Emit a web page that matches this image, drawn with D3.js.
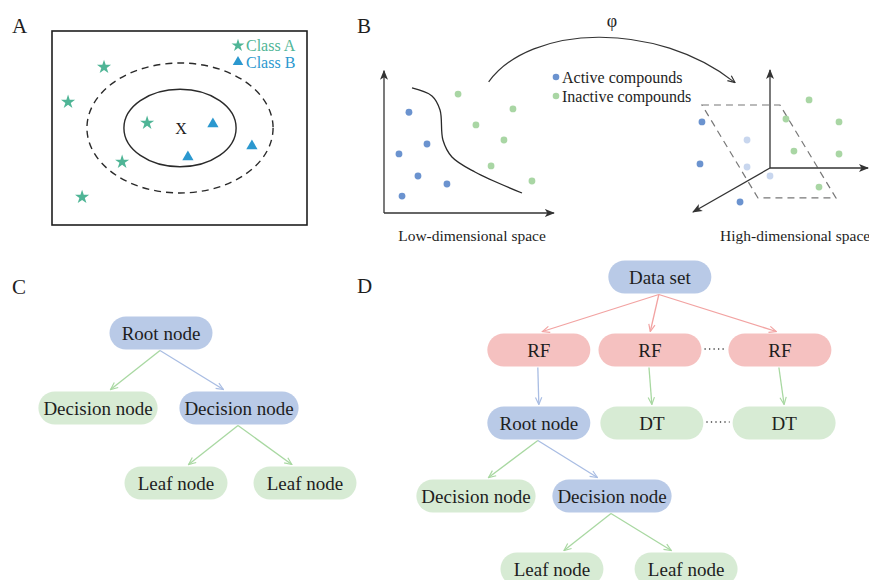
<!DOCTYPE html>
<html>
<head>
<meta charset="utf-8">
<script src="https://cdn.jsdelivr.net/npm/d3@7"></script>
<style>
  body { margin: 0; background: #fff; }
  svg { display: block; font-family: "Liberation Serif", "Times New Roman", serif; }
</style>
</head>
<body>
<svg id="fig" width="869" height="580"></svg>
<script>
// ---- panel A: neighbourhood sketch (units 0-100 inside the frame)
const classA = [[20.4, 18.6], [6.3, 36.6], [37.3, 47.4], [27.5, 67.5], [11.8, 85.6]];
const classB = [[63.1, 47.9], [78.4, 59.3], [53.3, 64.9]];
const queryPoint = [50.2, 50];
const radii = [[22, 20], [36.5, 33.5]];
const legendA = ["Class A", "Class B"];

// ---- panel B: low-dimensional space (units 0-10)
const lowActive = [[1.55, 7.3], [2.67, 5.0], [0.93, 4.28], [2.11, 2.68], [3.91, 2.1], [1.12, 1.23]];
const lowInactive = [[4.6, 8.62], [8.01, 7.54], [5.71, 6.38], [7.45, 5.29], [6.65, 3.41], [9.19, 2.32]];
const boundary = [[1.74, 9.06], [2.98, 8.48], [3.48, 7.46], [3.66, 5.29], [4.22, 4.06], [5.65, 2.97], [8.57, 1.45]];
const lowAxisEnd = [10.55, 10.3];

// ---- panel B: high-dimensional space (units 0-10)
const highActive = [[0.14, 6.29], [0, 3.29], [2.86, 0.57]];
const highFaded = [[3.36, 5.0], [3.36, 3.07], [5.0, 2.43]];
const highInactive = [[7.79, 7.86], [6.14, 6.5], [9.93, 6.29], [6.71, 4.21], [9.93, 4.0], [8.5, 1.64]];
const hyperplane = [[0.14, 7.5], [5.71, 7.5], [9.71, 0.86], [4.14, 0.86]];
const origin3d = [5, 3];
const axes3d = [[5, 10], [12, 3], [-0.5, -0.14]];
const legendB = ["Active compounds", "Inactive compounds"];
const spaceLabels = ["Low-dimensional space", "High-dimensional space"];
const mapSymbol = "φ";

// ---- panel C: decision tree (x 0-100, row index)
const treeC = [
  { id: "r",  label: "Root node",     x: 40.25, row: 0, group: "path" },
  { id: "d1", label: "Decision node", x: 24.5,  row: 1, group: "other", parent: "r" },
  { id: "d2", label: "Decision node", x: 59.75, row: 1, group: "path",  parent: "r" },
  { id: "l1", label: "Leaf node",     x: 44,    row: 2, group: "other", parent: "d2" },
  { id: "l2", label: "Leaf node",     x: 76.25, row: 2, group: "other", parent: "d2" }
];

// ---- panel D: random forest (x 0-100, row index)
const treeD = [
  { id: "ds",  label: "Data set",      x: 55.4, row: 0, group: "path" },
  { id: "rf1", label: "RF",            x: 29.6, row: 1, group: "forest", parent: "ds" },
  { id: "rf2", label: "RF",            x: 53.3, row: 1, group: "forest", parent: "ds" },
  { id: "rf3", label: "RF",            x: 81.0, row: 1, group: "forest", parent: "ds" },
  { id: "rt",  label: "Root node",     x: 29.6, row: 2, group: "path",  parent: "rf1" },
  { id: "dt1", label: "DT",            x: 53.7, row: 2, group: "other", parent: "rf2" },
  { id: "dt2", label: "DT",            x: 81.9, row: 2, group: "other", parent: "rf3" },
  { id: "dc1", label: "Decision node", x: 16.2, row: 3, group: "other", parent: "rt" },
  { id: "dc2", label: "Decision node", x: 45.2, row: 3, group: "path",  parent: "rt" },
  { id: "lf1", label: "Leaf node",     x: 32.4, row: 4, group: "other", parent: "dc2" },
  { id: "lf2", label: "Leaf node",     x: 61.0, row: 4, group: "other", parent: "dc2" }
];
const ellipsisPairs = [["rf2", "rf3"], ["dt1", "dt2"]];
const panelLabels = ["A", "B", "C", "D"];

const svg = d3.select("#fig");
const ink = "#1e1e1e";

// panel letters
const labelPos = [[12, 33], [357, 33], [12, 294], [357, 293]];
svg.selectAll("text.panel")
  .data(panelLabels)
  .enter().append("text")
  .attr("class", "panel")
  .attr("x", (d, i) => labelPos[i][0])
  .attr("y", (d, i) => labelPos[i][1])
  .attr("font-size", 21)
  .attr("fill", ink)
  .text(d => d);

// markers
const defs = svg.append("defs");
function openArrow(id, color) {
  defs.append("marker")
    .attr("id", id)
    .attr("viewBox", "0 0 10 10")
    .attr("refX", 9).attr("refY", 5)
    .attr("markerWidth", 9).attr("markerHeight", 9)
    .attr("markerUnits", "userSpaceOnUse")
    .attr("orient", "auto")
    .append("path")
    .attr("d", "M1,1.5 L9,5 L1,8.5")
    .attr("fill", "none")
    .attr("stroke", color)
    .attr("stroke-width", 1.3);
}
function solidArrow(id, color) {
  defs.append("marker")
    .attr("id", id)
    .attr("viewBox", "0 0 10 10")
    .attr("refX", 9).attr("refY", 5)
    .attr("markerWidth", 10).attr("markerHeight", 10)
    .attr("markerUnits", "userSpaceOnUse")
    .attr("orient", "auto")
    .append("path")
    .attr("d", "M0,1 L10,5 L0,9 L2.5,5 Z")
    .attr("fill", color);
}

const fillColor = d3.scaleOrdinal()
  .domain(["path", "other", "forest"])
  .range(["#b9cae7", "#d7ebd4", "#f5c1c0"]);
const edgeColor = d3.scaleOrdinal()
  .domain(["path", "other", "forest"])
  .range(["#a9bde3", "#a8d8a1", "#f2a3a2"]);
fillColor.domain().forEach(g => openArrow("arr-" + g, edgeColor(g)));
openArrow("arr-ink", "#333");
solidArrow("axis-ink", "#333");

// ================= panel A =================
const xA = d3.scaleLinear().domain([0, 100]).range([52, 307]);
const yA = d3.scaleLinear().domain([0, 100]).range([31, 225]);
const kA = (xA(1) - xA(0));
const kAy = (yA(1) - yA(0));
const gA = svg.append("g");

gA.append("rect")
  .attr("x", xA(0)).attr("y", yA(0))
  .attr("width", xA(100) - xA(0)).attr("height", yA(100) - yA(0))
  .attr("fill", "none").attr("stroke", ink).attr("stroke-width", 1.6);

gA.selectAll("ellipse")
  .data(radii)
  .enter().append("ellipse")
  .attr("cx", xA(queryPoint[0])).attr("cy", yA(queryPoint[1]))
  .attr("rx", d => d[0] * kA).attr("ry", d => d[1] * kAy)
  .attr("fill", "none").attr("stroke", "#2a2a2a").attr("stroke-width", 1.4)
  .attr("stroke-dasharray", (d, i) => i ? "7,5" : null);

gA.append("text")
  .attr("x", xA(queryPoint[0]) + 1).attr("y", yA(queryPoint[1]) + 6)
  .attr("text-anchor", "middle").attr("font-size", 16).attr("fill", ink)
  .text("X");

const starColor = "#4fb596", triColor = "#2b98cf";
gA.selectAll("path.star")
  .data(classA)
  .enter().append("path")
  .attr("class", "star")
  .attr("transform", d => `translate(${xA(d[0])},${yA(d[1])})`)
  .attr("d", d3.symbol(d3.symbolStar, 62))
  .attr("fill", starColor);
gA.selectAll("path.tri")
  .data(classB)
  .enter().append("path")
  .attr("class", "tri")
  .attr("transform", d => `translate(${xA(d[0])},${yA(d[1])})`)
  .attr("d", d3.symbol(d3.symbolTriangle, 55))
  .attr("fill", triColor);

const legA = gA.selectAll("g.leg")
  .data(legendA)
  .enter().append("g")
  .attr("transform", (d, i) => `translate(238,${45.5 + i * 16.5})`);
legA.append("path")
  .attr("d", (d, i) => d3.symbol(i ? d3.symbolTriangle : d3.symbolStar, i ? 48 : 52)())
  .attr("fill", (d, i) => i ? triColor : starColor);
legA.append("text")
  .attr("x", 8).attr("y", 5.5)
  .attr("font-size", 16)
  .attr("fill", (d, i) => i ? triColor : starColor)
  .text(d => d);

// ================= panel B =================
const blueDot = "#6b93cf", greenDot = "#a9d6a4", fadedDot = "#c8d6ee";
const xB = d3.scaleLinear().domain([0, 10]).range([384, 545]);
const yB = d3.scaleLinear().domain([0, 10]).range([213, 75]);
const gB = svg.append("g");

gB.append("line")
  .attr("x1", xB(0)).attr("y1", yB(0)).attr("x2", xB(0)).attr("y2", yB(lowAxisEnd[1]))
  .attr("stroke", "#333").attr("stroke-width", 1.3).attr("marker-end", "url(#axis-ink)");
gB.append("line")
  .attr("x1", xB(0)).attr("y1", yB(0)).attr("x2", xB(lowAxisEnd[0])).attr("y2", yB(0))
  .attr("stroke", "#333").attr("stroke-width", 1.3).attr("marker-end", "url(#axis-ink)");

gB.append("path")
  .datum(boundary)
  .attr("d", d3.line().x(d => xB(d[0])).y(d => yB(d[1])).curve(d3.curveCatmullRom.alpha(0.5)))
  .attr("fill", "none").attr("stroke", "#2a2a2a").attr("stroke-width", 1.3);

function dots(g, data, sx, sy, color) {
  g.append("g").selectAll("circle")
    .data(data)
    .enter().append("circle")
    .attr("cx", d => sx(d[0])).attr("cy", d => sy(d[1]))
    .attr("r", 3.4).attr("fill", color);
}
dots(gB, lowActive, xB, yB, blueDot);
dots(gB, lowInactive, xB, yB, greenDot);

// high dimensional
const x3 = d3.scaleLinear().domain([0, 10]).range([700, 840]);
const y3 = d3.scaleLinear().domain([0, 10]).range([210, 70]);

gB.append("path")
  .datum(hyperplane)
  .attr("d", d => d3.line().x(p => x3(p[0])).y(p => y3(p[1]))(d) + "Z")
  .attr("fill", "none").attr("stroke", "#777").attr("stroke-width", 1.2)
  .attr("stroke-dasharray", "7,5");

gB.selectAll("line.ax3")
  .data(axes3d)
  .enter().append("line")
  .attr("class", "ax3")
  .attr("x1", x3(origin3d[0])).attr("y1", y3(origin3d[1]))
  .attr("x2", d => x3(d[0])).attr("y2", d => y3(d[1]))
  .attr("stroke", "#333").attr("stroke-width", 1.3)
  .attr("marker-end", "url(#axis-ink)");

dots(gB, highActive, x3, y3, blueDot);
dots(gB, highFaded, x3, y3, fadedDot);
dots(gB, highInactive, x3, y3, greenDot);

// mapping arc
const a0 = [xB(6.5), yB(9.5)], a1 = [x3(2.5), y3(9.1)];
const arc = d3.path();
arc.moveTo(a0[0], a0[1]);
arc.bezierCurveTo(a0[0] + 42, a0[1] - 58, a1[0] - 78, a1[1] - 62, a1[0], a1[1]);
gB.append("path")
  .attr("d", arc.toString())
  .attr("fill", "none").attr("stroke", "#333").attr("stroke-width", 1.2)
  .attr("marker-end", "url(#arr-ink)");
gB.append("text")
  .attr("x", 612).attr("y", 27)
  .attr("text-anchor", "middle").attr("font-size", 18).attr("fill", ink)
  .text(mapSymbol);

const legB = gB.selectAll("g.legb")
  .data(legendB)
  .enter().append("g")
  .attr("transform", (d, i) => `translate(556,${77 + i * 19})`);
legB.append("circle").attr("r", 3.3).attr("fill", (d, i) => i ? greenDot : blueDot);
legB.append("text")
  .attr("x", 6).attr("y", 5.5)
  .attr("font-size", 16).attr("fill", ink)
  .text(d => d);

gB.selectAll("text.space")
  .data(spaceLabels)
  .enter().append("text")
  .attr("x", (d, i) => i ? 720 : 472)
  .attr("y", 241)
  .attr("text-anchor", (d, i) => i ? "start" : "middle")
  .attr("font-size", 15.5).attr("fill", ink)
  .text(d => d);

// ================= trees =================
const nodeH = 33;
function drawTree(nodes, sx, sy) {
  const g = svg.append("g");
  const byId = new Map(nodes.map(n => [n.id, n]));
  nodes.forEach(n => { n.cx = sx(n.x); n.cy = sy(n.row); });

  // node boxes (measure text first)
  const ng = g.selectAll("g.node")
    .data(nodes)
    .enter().append("g")
    .attr("transform", d => `translate(${d.cx},${d.cy})`);
  const rects = ng.append("rect");
  ng.append("text")
    .attr("text-anchor", "middle").attr("y", 6.5)
    .attr("font-size", 19).attr("fill", ink)
    .text(d => d.label)
    .each(function (d) { d.w = Math.max(103, this.getComputedTextLength() + 10); });
  rects
    .attr("x", d => -d.w / 2).attr("y", -nodeH / 2)
    .attr("width", d => d.w).attr("height", nodeH)
    .attr("rx", nodeH / 2)
    .attr("fill", d => fillColor(d.group));

  // edges
  const kids = d3.rollup(nodes.filter(n => n.parent), v => v.length, n => n.parent);
  const edges = nodes.filter(n => n.parent).map(n => ({ p: byId.get(n.parent), c: n }));
  g.selectAll("line.edge")
    .data(edges)
    .enter().insert("line", "g")
    .attr("class", "edge")
    .attr("x1", d => d.p.cx - 1)
    .attr("y1", d => d.p.cy + nodeH / 2 + 1)
    .attr("x2", d => {
      const k = kids.get(d.p.id) > 2 ? 0.03 : (kids.get(d.p.id) === 1 ? 0 : 0.2);
      return d.c.cx + (d.p.cx - d.c.cx) * k;
    })
    .attr("y2", d => d.c.cy - nodeH / 2 - 2)
    .attr("stroke", d => edgeColor(d.c.group)).attr("stroke-width", 1.3)
    .attr("marker-end", d => `url(#arr-${d.c.group})`);
  return { g, byId };
}

const xC = d3.scaleLinear().domain([0, 100]).range([0, 400]);
const yC = d3.scaleLinear().domain([0, 2]).range([333, 483]);
drawTree(treeC, xC, yC);

const xD = d3.scaleLinear().domain([0, 100]).range([400, 869]);
const yD = d3.scaleLinear().domain([0, 4]).range([277, 569]);
const tD = drawTree(treeD, xD, yD);

tD.g.selectAll("line.dots")
  .data(ellipsisPairs)
  .enter().append("line")
  .attr("x1", d => { const a = tD.byId.get(d[0]); return a.cx + a.w / 2 + 3; })
  .attr("x2", d => { const b = tD.byId.get(d[1]); return b.cx - b.w / 2 - 3; })
  .attr("y1", d => tD.byId.get(d[0]).cy - 1)
  .attr("y2", d => tD.byId.get(d[0]).cy - 1)
  .attr("stroke", "#444").attr("stroke-width", 1.3)
  .attr("stroke-dasharray", "1.3,3.2");
</script>
</body>
</html>
